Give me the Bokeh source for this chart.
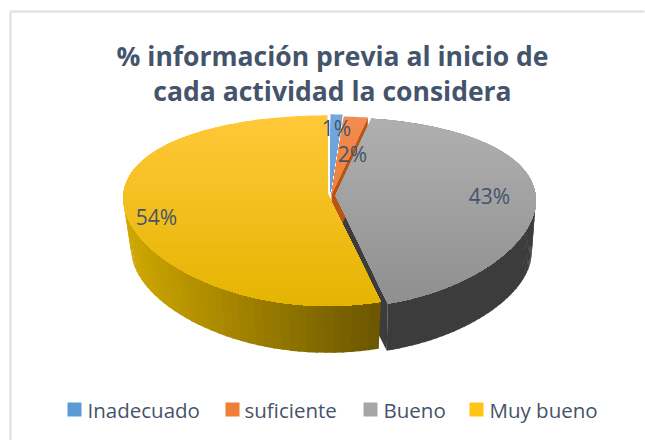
import math
from bokeh.plotting import figure
from bokeh.models import Range1d
from bokeh.core.properties import value
from bokeh.embed import file_html
from bokeh.resources import INLINE

categories = ["Inadecuado", "suficiente", "Bueno", "Muy bueno"]
values = [1, 2, 43, 54]
labels = ["1%", "2%", "43%", "54%"]
title_lines = ["% información previa al inicio de", "cada actividad la considera"]

TEXT = "#44546A"
FONT = "Open Sans"
W, H = 645, 440

p = figure(width=W, height=H, output_backend="svg", toolbar_location=None,
           x_range=Range1d(0, W), y_range=Range1d(H, 0),
           min_border=0, outline_line_color=None, background_fill_color="white",
           border_fill_color="white")
p.axis.visible = False
p.grid.visible = False

def lerp(a, b, t):
    return tuple(a[i] + (b[i] - a[i]) * t for i in range(3))

def hexc(c):
    return "#%02x%02x%02x" % tuple(int(round(v)) for v in c)

radii = [204.0, 204.0, 200.0, 204.0]
B, KX, KY = 92.2, 0.05, 0.18
A2, B2, DY = 196.0, 88.0, 52.0

def proj(u, v, cx, cy, a, low=False):
    aa, b, dy = (A2, B2, DY) if low else (a, B, 0.0)
    return cx + aa * u / (1 + KX * v), cy + dy - b * v / (1 + KY * v)

def rim(t, cx, cy, a, low=False):
    return proj(math.sin(t), math.cos(t), cx, cy, a, low)

def clip_below(pts, y0):
    out = []
    for i in range(len(pts)):
        a, b = pts[i], pts[(i + 1) % len(pts)]
        ka, kb = a[1] >= y0, b[1] >= y0
        if ka:
            out.append(a)
        if ka != kb:
            out.append((a[0] + (b[0] - a[0]) * (y0 - a[1]) / (b[1] - a[1]), y0))
    return out

top_cols = [((0x74, 0xa8, 0xdc), (0x4f, 0x90, 0xcf)),
            ((0xf2, 0x8c, 0x50), (0xe8, 0x6e, 0x1c)),
            ((0xb0, 0xb0, 0xb0), (0x8e, 0x8e, 0x8e)),
            ((0xff, 0xc8, 0x38), (0xe4, 0xb4, 0x00))]
wall_cols = [(0x3c, 0x6e, 0x9c), (0xb8, 0x54, 0x16), (0x3c, 0x3c, 0x3c), (0x3c, 0x3c, 0x3c)]
centres = [(330, 192), (331, 194), (335, 195), (327, 193)]

total = sum(values)
angles = [0.0]
for v in values:
    angles.append(angles[-1] + v / total * 2 * math.pi)

xs, ys, cols = [], [], []
def add(poly, c):
    xs.append([q[0] for q in poly])
    ys.append([q[1] for q in poly])
    cols.append(c)

# cut walls: the end face of the grey and orange slices
for i in (2, 1):
    t = angles[i + 1]
    cx, cy = centres[i]
    a = radii[i]
    add([proj(0, 0, cx, cy, a), rim(t, cx, cy, a), rim(t, cx, cy, a, True), proj(0, 0, cx, cy, a, True)],
        hexc(wall_cols[i]))

# outer walls of the two front slices
YEL_L, YEL_R = (0xd0, 0xa8, 0x00), (0x6b, 0x55, 0x00)
for i in (2, 3):
    a0, a1 = angles[i], angles[i + 1]
    cx, cy = centres[i]
    a = radii[i]
    n = 80
    steps = range(n) if i == 2 else range(n - 1, -1, -1)
    for j in steps:
        t0 = a0 + (a1 - a0) * j / n
        t1 = a0 + (a1 - a0) * (j + 1) / n
        if i == 3 and math.cos(t0) > 0.3:
            continue
        if i == 2:
            c = wall_cols[2]
        else:
            xm = rim((t0 + t1) / 2, cx, cy, a, True)[0]
            c = lerp(YEL_L, YEL_R, min(max((xm - 131) / 248, 0), 1))
        # each segment reaches over its neighbour, so no seams show
        t2 = t1 + 0.01 if j < n - 1 else t1
        add([rim(t0, cx, cy, a), rim(t2, cx, cy, a), rim(t2, cx, cy, a, True), rim(t0, cx, cy, a, True)], hexc(c))

# top faces, shaded by horizontal bands painted over one another
for i in (3, 2, 1, 0):
    a0, a1 = angles[i], angles[i + 1]
    cx, cy = centres[i]
    a = radii[i]
    n = max(6, int((a1 - a0) * 60))
    poly = [proj(0, 0, cx, cy, a)] + [rim(a0 + (a1 - a0) * j / n, cx, cy, a) for j in range(n + 1)]
    ytop, ybot = 114.0, 308.0
    bands = 40
    add(poly, hexc(top_cols[i][0]))
    for b in range(1, bands):
        q = clip_below(poly, ytop + (ybot - ytop) * b / bands)
        if len(q) >= 3:
            add(q, hexc(lerp(top_cols[i][0], top_cols[i][1], b / bands)))

p.patches(xs, ys, fill_color=cols, line_color=None)

# frame
FX0, FY0 = 10, 11
p.line([FX0, FX0], [FY0, H], line_color="#dfe4ea", line_width=2.5)
p.line([FX0, W - 1], [FY0, FY0], line_color="#dfe4ea", line_width=2.5)

# title
p.text(x=[332, 332], y=[55, 90], text=title_lines, text_font=value(FONT), text_font_style="bold",
       text_font_size="26.5px", text_color=TEXT, text_align="center", text_baseline="middle")

# data labels
lx = [336, 352, 489, 156]
ly = [127, 153, 195, 216]
p.text(x=lx, y=ly, text=labels, text_font=value(FONT), text_font_size="21px",
       text_color=TEXT, text_align="center", text_baseline="middle")

# legend
sw_x = [67, 225, 363, 469]
tx_x = [87, 244, 383, 489]
sw_col = ["#5b9bd5", "#f07f36", "#a6a6a6", "#ffc414"]
p.rect(x=[v + 7 for v in sw_x], y=[409] * 4, width=14, height=14,
       fill_color=sw_col, line_color=None)
p.text(x=tx_x, y=[409] * 4, text=categories, text_font=value(FONT),
       text_font_size="20.5px", text_color=TEXT, text_align="left", text_baseline="middle")

open("out.html", "w").write(file_html(p, INLINE))
